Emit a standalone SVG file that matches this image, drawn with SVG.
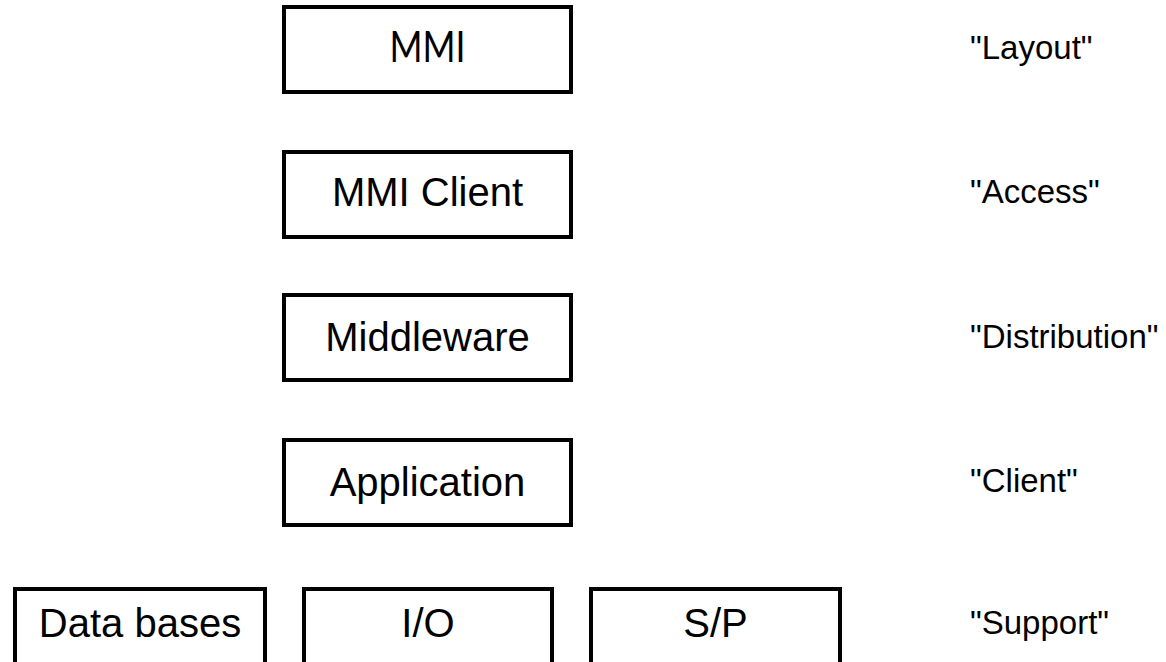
<svg xmlns="http://www.w3.org/2000/svg" width="1166" height="662" viewBox="0 0 1166 662">
  <style>
    .box { fill: #ffffff; stroke: #000000; stroke-width: 4; }
    .lbl { font-family: "Liberation Sans", Arial, sans-serif; font-size: 40px; fill: #000000; text-anchor: middle; }
    .cal { font-family: Lato, "Open Sans", sans-serif; font-size: 42px; fill: #000000; text-anchor: middle; }
    .tag { font-family: "Liberation Sans", Arial, sans-serif; font-size: 33px; fill: #000000; }
  </style>
  <rect width="1166" height="662" fill="#ffffff"/>

  <!-- layer stack -->
  <g id="mmi">
    <rect class="box" x="284" y="7" width="287" height="85"/>
    <text class="cal" x="427.5" y="62" textLength="76" lengthAdjust="spacingAndGlyphs">MMI</text>
  </g>
  <g id="mmi-client">
    <rect class="box" x="284" y="152" width="287" height="85"/>
    <text class="lbl" x="427.5" y="206">MMI Client</text>
  </g>
  <g id="middleware">
    <rect class="box" x="284" y="295" width="287" height="85"/>
    <text class="lbl" x="427.5" y="351">Middleware</text>
  </g>
  <g id="application">
    <rect class="box" x="284" y="440" width="287" height="85"/>
    <text class="lbl" x="427.5" y="496">Application</text>
  </g>

  <!-- support row -->
  <g id="data-bases">
    <rect class="box" x="15" y="589" width="250" height="90"/>
    <text class="lbl" x="140" y="637">Data bases</text>
  </g>
  <g id="io">
    <rect class="box" x="304" y="589" width="248" height="90"/>
    <text class="lbl" x="428" y="637">I/O</text>
  </g>
  <g id="sp">
    <rect class="box" x="591" y="589" width="249" height="90"/>
    <text class="lbl" x="715.5" y="637">S/P</text>
  </g>

  <!-- layer names -->
  <g id="layer-names">
    <text class="tag" x="970" y="59">"Layout"</text>
    <text class="tag" x="970" y="203">"Access"</text>
    <text class="tag" x="970" y="348">"Distribution"</text>
    <text class="tag" x="970" y="492">"Client"</text>
    <text class="tag" x="970" y="634">"Support"</text>
  </g>

  <g id="connectors"></g>
</svg>
